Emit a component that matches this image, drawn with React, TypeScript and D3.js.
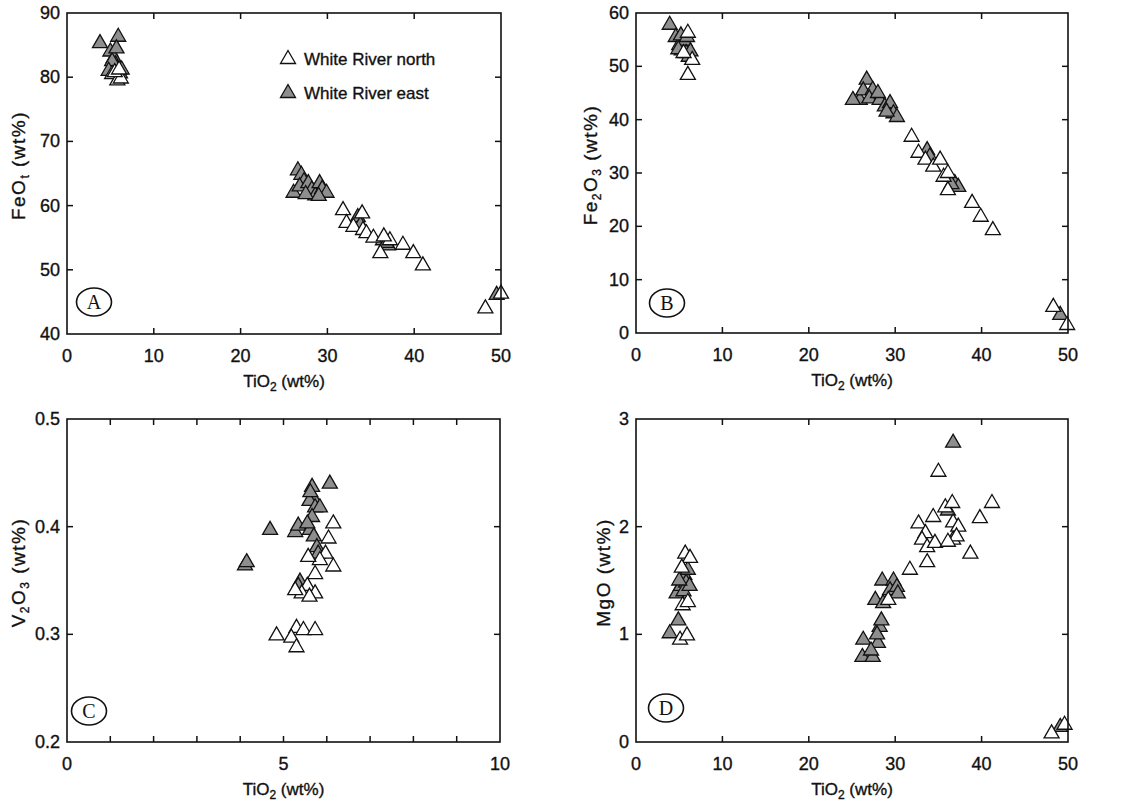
import React from "react";
import * as d3 from "d3";

type Pt = [number, number];

// Panel A: TiO2 vs FeOt
const aNorth: Pt[] = [
  [5.2, 80.5], [5.8, 79.5], [6.2, 79.8], [5.5, 80.8], [6.0, 81.2],
  [31.8, 59.3], [32.2, 57.3], [33.0, 56.7], [34.0, 58.8], [34.1, 56.2], [34.5, 55.7], [35.3, 55.0],
  [36.1, 52.6], [37.2, 54.6], [36.5, 55.2], [38.7, 53.9], [39.9, 52.6], [41.0, 50.7], [48.2, 44.0], [50.0, 46.3],
];
const aEast: Pt[] = [
  [3.8, 85.3], [5.9, 86.3], [5.0, 84.0], [5.4, 83.0], [5.6, 82.0], [5.8, 81.3], [6.1, 80.6], [5.2, 82.5],
  [6.3, 81.2], [4.8, 81.0], [5.7, 84.5],
  [26.1, 62.0], [26.6, 65.5], [27.0, 64.8], [27.3, 63.8], [26.8, 63.0], [27.8, 63.5], [28.2, 62.5], [28.6, 61.6],
  [27.5, 61.8], [29.1, 63.5], [29.4, 62.6], [29.9, 62.0], [29.0, 61.5],
  [33.5, 58.2], [33.8, 57.0], [36.4, 54.6], [37.0, 53.8], [36.8, 54.2],
  [49.5, 46.1],
];

// Panel B: TiO2 vs Fe2O3
const bNorth: Pt[] = [
  [6.0, 56.3], [6.0, 48.4], [6.5, 51.2], [5.5, 52.5],
  [31.9, 36.8], [32.7, 33.8], [33.5, 32.5], [34.4, 31.2], [35.2, 32.5], [35.6, 29.3], [36.1, 30.0], [36.1, 26.8],
  [38.9, 24.4], [39.9, 21.8], [41.3, 19.3], [48.3, 4.9], [49.9, 1.5],
];
const bEast: Pt[] = [
  [3.9, 57.8], [4.6, 55.5], [5.0, 54.0], [5.3, 53.0], [5.6, 54.8], [5.8, 52.5], [6.1, 51.8], [5.2, 55.8],
  [5.9, 55.5], [4.9, 53.2], [6.3, 52.8],
  [26.7, 47.5], [25.9, 43.7], [25.1, 43.7], [26.3, 45.5], [27.4, 45.6], [27.0, 44.0], [28.2, 43.7], [28.0, 45.0],
  [28.8, 42.5], [29.4, 43.1], [29.8, 41.2], [30.2, 40.5], [29.0, 41.5],
  [33.7, 34.3], [34.0, 33.1], [36.9, 28.1], [37.3, 27.4], [36.5, 27.9],
  [49.1, 3.4],
];

// Panel C: TiO2 vs V2O3
const cNorth: Pt[] = [
  [6.15, 0.403], [6.04, 0.389], [6.15, 0.363], [5.97, 0.375], [5.84, 0.369], [5.57, 0.372], [5.73, 0.356],
  [5.55, 0.345], [5.73, 0.338], [5.42, 0.338], [5.6, 0.335], [5.27, 0.341],
  [4.84, 0.299], [5.3, 0.306], [5.46, 0.304], [5.73, 0.304], [5.18, 0.297], [5.3, 0.288],
];
const cEast: Pt[] = [
  [4.11, 0.364], [4.15, 0.367], [4.69, 0.397], [5.27, 0.395], [5.34, 0.401], [5.66, 0.437], [5.68, 0.427],
  [5.6, 0.424], [5.73, 0.418], [5.84, 0.418], [5.66, 0.409], [5.61, 0.397], [5.7, 0.391], [5.77, 0.381],
  [5.8, 0.375], [5.38, 0.349], [6.07, 0.44], [5.34, 0.345], [5.62, 0.432], [5.55, 0.403],
];

// Panel D: TiO2 vs MgO
const dNorth: Pt[] = [
  [5.7, 1.75], [6.25, 1.71], [5.4, 1.27], [5.1, 0.95], [5.9, 0.99], [5.3, 1.62], [6.0, 1.3],
  [29.2, 1.32], [31.7, 1.6], [32.7, 2.03], [33.5, 1.94], [33.1, 1.88], [33.7, 1.81], [33.7, 1.67], [34.4, 2.09],
  [34.6, 1.85], [35.0, 2.51], [35.8, 2.18], [36.6, 2.22], [36.7, 2.04], [37.3, 2.0], [36.7, 1.88], [37.1, 1.91],
  [36.1, 1.86], [38.7, 1.75], [39.8, 2.08], [41.2, 2.22], [48.1, 0.08], [49.6, 0.16],
];
const dEast: Pt[] = [
  [4.7, 1.38], [3.9, 1.01], [4.9, 1.13], [5.2, 1.45], [5.6, 1.55], [5.8, 1.48], [6.0, 1.6], [5.5, 1.4],
  [6.2, 1.45], [5.0, 1.5],
  [26.2, 0.79], [26.3, 0.95], [27.4, 0.79], [28.0, 0.92], [28.2, 1.07], [28.4, 1.13], [27.9, 1.0], [27.7, 1.32],
  [28.6, 1.29], [28.5, 1.5], [29.8, 1.5], [29.4, 1.41], [30.2, 1.44], [30.3, 1.38], [27.2, 0.85],
  [36.1, 2.15], [36.7, 2.78], [49.1, 0.14],
];

const ticksX50 = [0, 10, 20, 30, 40, 50];
const ticksX10 = [0, 5, 10];
const minorX10 = [1, 2, 3, 4, 6, 7, 8, 9];
const ticksYA = [40, 50, 60, 70, 80, 90];
const ticksYB = [0, 10, 20, 30, 40, 50, 60];
const ticksYC = [0.2, 0.3, 0.4, 0.5];
const ticksYD = [0, 1, 2, 3];

const legendLabels = ["White River north", "White River east"];

const FONT = "'Liberation Sans', Arial, sans-serif";
const GREY = "#8e8e8e";
const TRI = "M0,-8.5L7.5,4.5L-7.5,4.5Z";
const TXT = { fontFamily: FONT, fill: "#111", stroke: "#111", strokeWidth: 0.35 } as const;

type PanelProps = {
  x0: number; x1: number; y0: number; y1: number;
  xDom: [number, number]; yDom: [number, number];
  xTicks: number[]; yTicks: number[]; xMinor?: number[];
  yFmt: (v: number) => string;
  yTitle: React.ReactNode; titleX: number;
  north: Pt[]; east: Pt[];
  letter: string; lx: number; ly: number;
};

function Panel(p: PanelProps) {
  const xs = d3.scaleLinear().domain(p.xDom).range([p.x0, p.x1]);
  const ys = d3.scaleLinear().domain(p.yDom).range([p.y1, p.y0]);
  const tl = 6;
  const inner = p.xTicks.filter((t) => t > p.xDom[0] && t < p.xDom[1]);
  const innerY = p.yTicks.filter((t) => t > p.yDom[0] && t < p.yDom[1]);
  const minor = p.xMinor || [];
  const cy = (p.y0 + p.y1) / 2 - 8;
  const cx = (p.x0 + p.x1) / 2;
  return (
    <g>
      {p.east.map((d, i) => (
        <path key={"e" + i} d={TRI} transform={`translate(${xs(d[0])},${ys(d[1])})`} fill={GREY} stroke="#111" strokeWidth={1.3} />
      ))}
      {p.north.map((d, i) => (
        <path key={"n" + i} d={TRI} transform={`translate(${xs(d[0])},${ys(d[1])})`} fill="white" stroke="#111" strokeWidth={1.3} />
      ))}
      <rect x={p.x0} y={p.y0} width={p.x1 - p.x0} height={p.y1 - p.y0} fill="none" stroke="#111" strokeWidth={1.6} />
      {inner.concat(minor).map((t) => (
        <g key={"xt" + t}>
          <line x1={xs(t)} x2={xs(t)} y1={p.y1} y2={p.y1 - tl} stroke="#111" strokeWidth={1.5} />
          <line x1={xs(t)} x2={xs(t)} y1={p.y0} y2={p.y0 + tl} stroke="#111" strokeWidth={1.5} />
        </g>
      ))}
      {innerY.map((t) => (
        <g key={"yt" + t}>
          <line x1={p.x0} x2={p.x0 + tl} y1={ys(t)} y2={ys(t)} stroke="#111" strokeWidth={1.5} />
          <line x1={p.x1} x2={p.x1 - tl} y1={ys(t)} y2={ys(t)} stroke="#111" strokeWidth={1.5} />
        </g>
      ))}
      {p.xTicks.map((t) => (
        <text key={"xl" + t} x={xs(t)} y={p.y1 + 28} textAnchor="middle" fontSize={18} {...TXT}>
          {t}
        </text>
      ))}
      {p.yTicks.map((t) => (
        <text key={"yl" + t} x={p.x0 - 7} y={ys(t) + 6} textAnchor="end" fontSize={18} {...TXT}>
          {p.yFmt(t)}
        </text>
      ))}
      <text x={cx} y={p.y1 + 53} textAnchor="middle" fontSize={17} {...TXT}>
        TiO<tspan fontSize={12} dy={4}>2</tspan><tspan dy={-4}>{"  (wt%)"}</tspan>
      </text>
      <text transform={`translate(${p.titleX},${cy}) rotate(-90)`} textAnchor="middle" fontSize={19} letterSpacing={1.5} {...TXT}>
        {p.yTitle}
      </text>
      <ellipse cx={p.lx} cy={p.ly} rx={17.5} ry={14} fill="none" stroke="#111" strokeWidth={1.6} />
      <text x={p.lx} y={p.ly + 7} textAnchor="middle" fontSize={20} fontFamily="'Liberation Serif', 'Times New Roman', serif" fill="#111">
        {p.letter}
      </text>
    </g>
  );
}

export default function App() {
  const fmt0 = (v: number) => String(v);
  const fmt1 = (v: number) => d3.format(".1f")(v);
  return (
    <div style={{ position: "absolute", left: 0, top: 0 }}>
      <svg width={1121} height={802} style={{ display: "block", background: "white" }}>
        <Panel
          x0={67} x1={501} y0={13} y1={334} xDom={[0, 50]} yDom={[40, 90]}
          xTicks={ticksX50} yTicks={ticksYA} yFmt={fmt0} titleX={25}
          yTitle={<>FeO<tspan fontSize={12} dy={4}>t</tspan><tspan dy={-4}>{" (wt%)"}</tspan></>}
          north={aNorth} east={aEast} letter="A" lx={94} ly={302}
        />
        <Panel
          x0={636} x1={1068} y0={13} y1={333} xDom={[0, 50]} yDom={[0, 60]}
          xTicks={ticksX50} yTicks={ticksYB} yFmt={fmt0} titleX={597}
          yTitle={<>Fe<tspan fontSize={12} dy={4}>2</tspan><tspan dy={-4}>O</tspan><tspan fontSize={12} dy={4}>3</tspan><tspan dy={-4}>{" (wt%)"}</tspan></>}
          north={bNorth} east={bEast} letter="B" lx={667} ly={303}
        />
        <Panel
          x0={67} x1={500} y0={419} y1={742} xDom={[0, 10]} yDom={[0.2, 0.5]}
          xTicks={ticksX10} xMinor={minorX10} yTicks={ticksYC} yFmt={fmt1} titleX={25}
          yTitle={<>V<tspan fontSize={12} dy={4}>2</tspan><tspan dy={-4}>O</tspan><tspan fontSize={12} dy={4}>3</tspan><tspan dy={-4}>{" (wt%)"}</tspan></>}
          north={cNorth} east={cEast} letter="C" lx={89} ly={711}
        />
        <Panel
          x0={636} x1={1068} y0={419} y1={742} xDom={[0, 50]} yDom={[0, 3]}
          xTicks={ticksX50} yTicks={ticksYD} yFmt={fmt0} titleX={610}
          yTitle={<>MgO (wt%)</>}
          north={dNorth} east={dEast} letter="D" lx={666} ly={708}
        />
        <g>
          <path d={TRI} transform="translate(288,59)" fill="white" stroke="#111" strokeWidth={1.3} />
          <text x={304} y={65} fontSize={17} {...TXT}>{legendLabels[0]}</text>
          <path d={TRI} transform="translate(288,93)" fill={GREY} stroke="#111" strokeWidth={1.3} />
          <text x={304} y={99} fontSize={17} {...TXT}>{legendLabels[1]}</text>
        </g>
      </svg>
    </div>
  );
}
